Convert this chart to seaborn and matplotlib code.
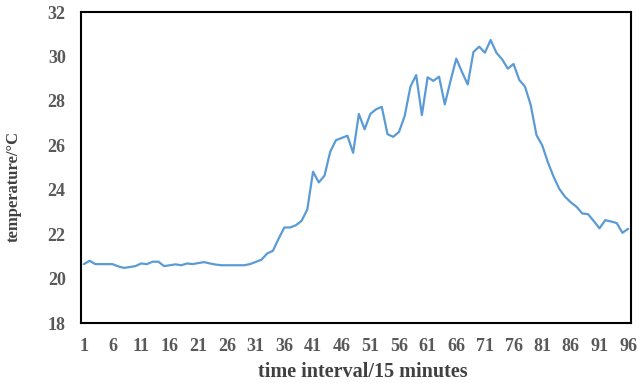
import numpy as np
import pandas as pd
import matplotlib
matplotlib.use("Agg")
import matplotlib.pyplot as plt
import seaborn as sns

interval = list(range(1, 97))
temperature = [
    20.65, 20.8, 20.65, 20.65, 20.65, 20.65, 20.55, 20.48, 20.52, 20.56,
    20.68, 20.65, 20.76, 20.76, 20.56, 20.6, 20.64, 20.6, 20.68, 20.65,
    20.7, 20.74, 20.68, 20.63, 20.6, 20.6, 20.6, 20.6, 20.6, 20.65,
    20.75, 20.85, 21.13, 21.25, 21.8, 22.3, 22.3, 22.4, 22.6, 23.11,
    24.81, 24.33, 24.63, 25.71, 26.23, 26.33, 26.43, 25.66, 27.41, 26.72,
    27.41, 27.62, 27.73, 26.5, 26.38, 26.6, 27.32, 28.64, 29.16, 27.36,
    29.06, 28.9, 29.09, 27.84, 28.9, 29.9, 29.3, 28.74, 30.2, 30.44,
    30.17, 30.74, 30.17, 29.87, 29.45, 29.66, 28.94, 28.64, 27.81, 26.46,
    26.0, 25.23, 24.58, 24.03, 23.68, 23.43, 23.23, 22.93, 22.9, 22.59,
    22.26, 22.63, 22.57, 22.5, 22.06, 22.24,
]
xtick_values = list(range(1, 97, 5))
ytick_values = list(range(18, 33, 2))
xlabel = "time interval/15 minutes"
ylabel = "temperature/°C"

sns.set_style("white")
plt.rcParams["font.family"] = ["Liberation Serif", "DejaVu Serif"]

df = pd.DataFrame({"interval": interval, "temperature": temperature})

fig = plt.figure(figsize=(6.39, 3.83), dpi=100)
ax = fig.add_axes([81 / 639, 1 - 323 / 383, 550 / 639, 311 / 383])
sns.lineplot(data=df, x="interval", y="temperature", ax=ax,
             color="#5B9BD5", linewidth=1.6)

ax.set_xlim(0.5, 96.5)
ax.set_ylim(18, 32)
ax.set_xticks(xtick_values)
ax.set_xticklabels([str(v) for v in xtick_values])
ax.set_yticks(ytick_values)
ax.set_yticklabels([str(v) for v in ytick_values])
ax.tick_params(axis="both", length=0, labelsize=13, colors="#595959")
ax.tick_params(axis="x", pad=11)
ax.tick_params(axis="y", pad=11)
for lab in ax.get_xticklabels() + ax.get_yticklabels():
    lab.set_fontweight("bold")

ax.set_xlabel(xlabel, fontsize=14.5, fontweight="bold", color="#404040")
ax.set_ylabel(ylabel, fontsize=12, fontweight="bold", color="#404040")
ax.xaxis.set_label_coords(0.513, -0.125)
ax.yaxis.set_label_coords(-0.107, 0.44)

for s in ax.spines.values():
    s.set_visible(True)
    s.set_color("black")
    s.set_linewidth(1.5)

fig.savefig("out.png", dpi=100)
